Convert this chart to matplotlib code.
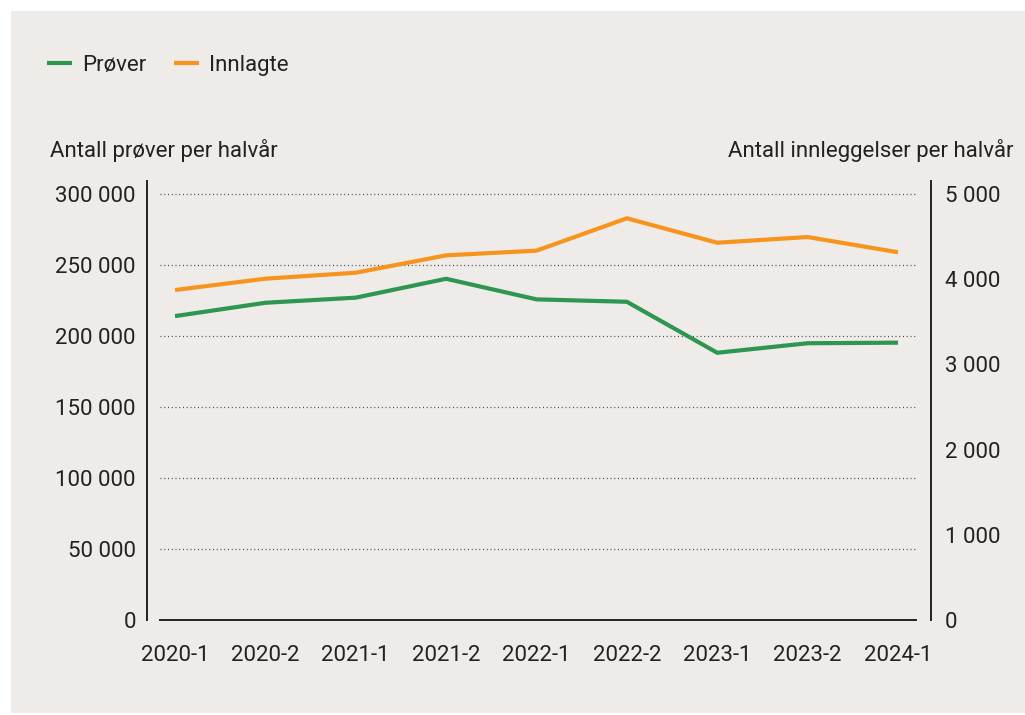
import matplotlib
matplotlib.use("Agg")
import matplotlib.pyplot as plt
from matplotlib.patches import Rectangle
from matplotlib.lines import Line2D

# halvår
periods = ["2020-1", "2020-2", "2021-1", "2021-2", "2022-1",
           "2022-2", "2023-1", "2023-2", "2024-1"]
prover = [214000, 223400, 227000, 240300, 225800, 224100, 188200, 194900, 195300]
innlagte = [3873, 4006, 4076, 4280, 4335, 4715, 4428, 4495, 4316]

left_ticks = [0, 50000, 100000, 150000, 200000, 250000, 300000]
left_labels = ["0", "50 000", "100 000", "150 000", "200 000", "250 000", "300 000"]
right_ticks = [0, 1000, 2000, 3000, 4000, 5000]
right_labels = ["0", "1 000", "2 000", "3 000", "4 000", "5 000"]

GREEN = "#2e9650"
ORANGE = "#f7941d"
BG = "#eeebe9"
TXT = "#222222"
FS = 16

plt.rcParams["font.family"] = ["Roboto", "DejaVu Sans"]
plt.rcParams["font.size"] = FS

fig = plt.figure(figsize=(10.25, 7.15), dpi=100, facecolor="white")
fig.patches.append(Rectangle((11 / 1025, 2 / 715), 1 - 11 / 1025, 1 - 13 / 715,
                             transform=fig.transFigure, facecolor=BG,
                             edgecolor="none", zorder=-10))

ax = fig.add_axes([160 / 1025, 1 - 620 / 715, (916 - 160) / 1025, (620 - 181) / 715])
ax.set_facecolor("none")
ax2 = ax.twinx()
ax2.set_facecolor("none")

x = list(range(len(periods)))
ax.plot(x, prover, color=GREEN, lw=3, solid_capstyle="butt", solid_joinstyle="round", zorder=3)
ax2.plot(x, innlagte, color=ORANGE, lw=3, solid_capstyle="butt", solid_joinstyle="round", zorder=3)

ymax = 300000 * (620 - 181) / (620 - 194)
ax.set_ylim(0, ymax)
ax2.set_ylim(0, ymax / 60)
ax.set_xlim(-15 / 90.375, 8 + 18 / 90.375)

for t in left_ticks[1:]:
    ax.axhline(t, color="#444444", lw=0.9, ls=(0, (0.8, 2.2)), zorder=1)

ax.set_yticks(left_ticks, left_labels)
ax2.set_yticks(right_ticks, right_labels)
ax.set_xticks(x, periods)

for a in (ax, ax2):
    a.spines["top"].set_visible(False)
    a.tick_params(length=0, colors=TXT, labelsize=FS)
ax.spines["right"].set_visible(False)
ax2.spines["left"].set_visible(False)
ax2.spines["bottom"].set_visible(False)
ax.spines["left"].set_position(("outward", 13 * 0.72))
ax2.spines["right"].set_position(("outward", 15 * 0.72))
for s in (ax.spines["left"], ax.spines["bottom"], ax2.spines["right"]):
    s.set_color(TXT)
    s.set_linewidth(1.4)
ax.tick_params(axis="y", pad=8)
ax2.tick_params(axis="y", pad=10)
ax.tick_params(axis="x", pad=18)

fig.text(50 / 1025, 1 - 150 / 715, "Antall prøver per halvår", ha="left", va="center",
         color=TXT, fontsize=FS)
fig.text(1013 / 1025, 1 - 150 / 715, "Antall innleggelser per halvår", ha="right",
         va="center", color=TXT, fontsize=FS)

h1 = Line2D([], [], color=GREEN, lw=3, solid_capstyle="butt")
h2 = Line2D([], [], color=ORANGE, lw=3, solid_capstyle="butt")
fig.legend([h1, h2], ["Prøver", "Innlagte"], loc="center left",
           bbox_to_anchor=(27 / 1025, 1 - 65 / 715), ncol=2, frameon=False,
           handlelength=1.12, handletextpad=0.45, columnspacing=1.25,
           labelcolor=TXT, fontsize=FS)

fig.savefig("out.png", dpi=100, facecolor="white")
